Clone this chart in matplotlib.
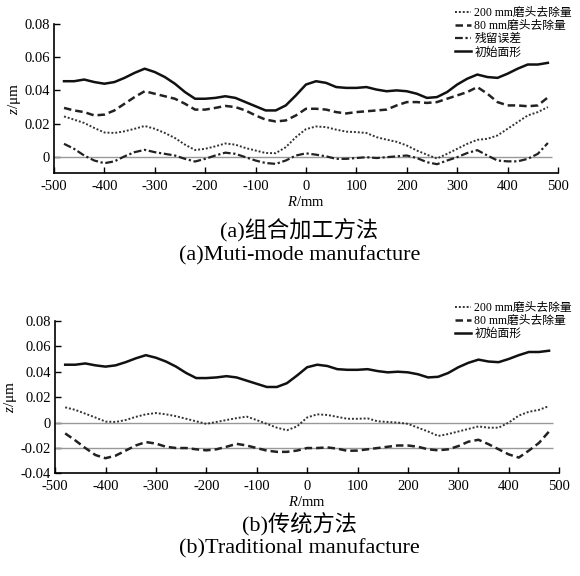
import matplotlib
matplotlib.use("Agg")
import matplotlib.pyplot as plt
from matplotlib.ticker import FuncFormatter

plt.rcParams['font.family'] = ['Liberation Serif', 'Noto Sans CJK SC']
plt.rcParams['mathtext.fontset'] = 'custom'
plt.rcParams['mathtext.it'] = 'Liberation Serif:italic'
plt.rcParams['mathtext.rm'] = 'Liberation Serif'
plt.rcParams['axes.unicode_minus'] = False

# radius samples (mm)
R = [-480, -460, -440, -420, -400, -380, -360, -340, -320, -300,
     -280, -260, -240, -220, -200, -180, -160, -140, -120, -100,
     -80, -60, -40, -20, 0, 20, 40, 60, 80, 100,
     120, 140, 160, 180, 200, 220, 240, 260, 280, 300,
     320, 340, 360, 380, 400, 420, 440, 460, 480]

# initial surface (same in both panels)
initial = [0.0455, 0.0455, 0.0465, 0.045, 0.044, 0.045, 0.0475, 0.0505, 0.053, 0.051,
           0.048, 0.044, 0.039, 0.035, 0.035, 0.0355, 0.0365, 0.0355, 0.033, 0.0305,
           0.028, 0.028, 0.031, 0.037, 0.0435, 0.0455, 0.0445, 0.042, 0.0415, 0.0415,
           0.042, 0.0405, 0.0395, 0.040, 0.0395, 0.038, 0.0355, 0.036, 0.039, 0.0435,
           0.047, 0.0495, 0.048, 0.0475, 0.050, 0.053, 0.0555, 0.0555, 0.0565]

# (a) multi-mode
a_200 = [0.0244, 0.0225, 0.0205, 0.0175, 0.0148, 0.0145, 0.0155, 0.017, 0.0187, 0.017,
         0.0145, 0.0115, 0.0075, 0.0043, 0.005, 0.0065, 0.0082, 0.0075, 0.0055, 0.004,
         0.0025, 0.0024, 0.006, 0.012, 0.0168, 0.0184, 0.018, 0.0165, 0.0153, 0.015,
         0.0145, 0.012, 0.0105, 0.0092, 0.007, 0.004, 0.0015, -0.0008, 0.002, 0.005,
         0.008, 0.0104, 0.011, 0.013, 0.017, 0.021, 0.025, 0.027, 0.030]
a_80 = [0.0295, 0.028, 0.027, 0.025, 0.0255, 0.028, 0.032, 0.036, 0.0395, 0.038,
        0.0365, 0.035, 0.032, 0.0285, 0.0285, 0.0295, 0.0307, 0.030, 0.028, 0.025,
        0.0225, 0.0214, 0.022, 0.025, 0.029, 0.029, 0.0285, 0.027, 0.0262, 0.027,
        0.0275, 0.028, 0.0285, 0.031, 0.033, 0.033, 0.0325, 0.033, 0.035, 0.037,
        0.039, 0.042, 0.038, 0.033, 0.031, 0.031, 0.0305, 0.031, 0.0358]
a_res = [0.008, 0.005, 0.001, -0.002, -0.0036, -0.0025, 0.0005, 0.003, 0.0044, 0.003,
         0.002, 0.001, -0.001, -0.0026, -0.001, 0.001, 0.0027, 0.002, 0.0, -0.002,
         -0.0035, -0.004, -0.002, 0.001, 0.0023, 0.0015, 0.0005, -0.001, -0.001, -0.0005,
         0.0, -0.0005, 0.0, 0.0005, 0.001, -0.0005, -0.003, -0.0042, -0.002, 0.0,
         0.0025, 0.0042, 0.001, -0.002, -0.0025, -0.0025, -0.001, 0.002, 0.0085]

# (b) traditional
b_200 = [0.012, 0.010, 0.007, 0.004, 0.0008, 0.0005, 0.002, 0.0045, 0.0065, 0.0075,
         0.0065, 0.005, 0.003, 0.001, -0.001, 0.0005, 0.002, 0.0035, 0.0047, 0.002,
         -0.001, -0.004, -0.006, -0.003, 0.004, 0.0065, 0.006, 0.0045, 0.003, 0.003,
         0.0033, 0.001, 0.0005, 0.0, -0.001, -0.004, -0.007, -0.0105, -0.009, -0.007,
         -0.005, -0.003, -0.004, -0.004, 0.0, 0.0055, 0.0085, 0.010, 0.013]
b_80 = [-0.0085, -0.014, -0.020, -0.0255, -0.028, -0.026, -0.022, -0.018, -0.0153, -0.0165,
        -0.019, -0.020, -0.020, -0.021, -0.0218, -0.021, -0.019, -0.0167, -0.018, -0.020,
        -0.022, -0.023, -0.023, -0.022, -0.020, -0.020, -0.0195, -0.0205, -0.0222, -0.022,
        -0.021, -0.020, -0.019, -0.018, -0.018, -0.019, -0.021, -0.0218, -0.021, -0.0185,
        -0.015, -0.0135, -0.017, -0.021, -0.025, -0.0275, -0.022, -0.016, -0.007]

LBL_200 = '200 mm磨头去除量'
LBL_80 = '80 mm磨头去除量'
LBL_RES = '残留误差'
LBL_INIT = '初始面形'

STYLE_200 = dict(color='#333333', lw=1.4, linestyle=(0, (1, 1)))
STYLE_80 = dict(color='#222222', lw=1.8, linestyle=(0, (3, 1.6)))
STYLE_RES = dict(color='#222222', lw=1.6, linestyle=(0, (3.5, 1.2, 1, 1.2)))
STYLE_INIT = dict(color='#111111', lw=1.8, linestyle='-')


def yfmt(v, pos):
    return '0' if abs(v) < 1e-9 else f'{v:.2f}'


def style_axes(ax, ylim, yticks):
    ax.set_xlim(-500, 500)
    ax.set_ylim(*ylim)
    ax.set_xticks(range(-500, 501, 100))
    ax.set_yticks(yticks)
    ax.yaxis.set_major_formatter(FuncFormatter(yfmt))
    for s in ('top', 'right'):
        ax.spines[s].set_visible(False)
    for s in ('left', 'bottom'):
        ax.spines[s].set_linewidth(1.2)
    ax.tick_params(direction='in', length=4, width=1, labelsize=10.5)
    ax.tick_params(axis='x', pad=5)
    ax.tick_params(axis='y', pad=3)
    ax.set_xlabel('$\\it{R}$/mm', fontsize=10.5, labelpad=1)
    ax.set_ylabel('$\\it{z}$/μm', fontsize=11, labelpad=1)


fig = plt.figure(figsize=(5.8, 5.76), dpi=100)

ax1 = fig.add_axes([0.093, 0.699, 0.869, 0.26])
ax1.hlines(0, -500, 488, color='#999999', lw=1.0)
ax1.plot(R, a_200, label=LBL_200, **STYLE_200)
ax1.plot(R, a_80, label=LBL_80, **STYLE_80)
ax1.plot(R, a_res, label=LBL_RES, **STYLE_RES)
ax1.plot(R, initial, label=LBL_INIT, **STYLE_INIT)
style_axes(ax1, (-0.0097, 0.08), [0, 0.02, 0.04, 0.06, 0.08])
ax1.legend(loc='upper left', bbox_to_anchor=(0.785, 0.988), bbox_transform=fig.transFigure,
           frameon=False, fontsize=8.5, handlelength=1.3, handletextpad=0.3,
           labelspacing=0.1, borderpad=0, borderaxespad=0)

ax2 = fig.add_axes([0.095, 0.178, 0.869, 0.265])
ax2.hlines([0, -0.02], -500, 488, color='#999999', lw=1.0)
ax2.plot(R, b_200, label=LBL_200, **STYLE_200)
ax2.plot(R, b_80, label=LBL_80, **STYLE_80)
ax2.plot(R, initial, label=LBL_INIT, **STYLE_INIT)
style_axes(ax2, (-0.04, 0.08), [-0.04, -0.02, 0, 0.02, 0.04, 0.06, 0.08])
ax2.legend(loc='upper left', bbox_to_anchor=(0.785, 0.476), bbox_transform=fig.transFigure,
           frameon=False, fontsize=8.5, handlelength=1.3, handletextpad=0.3,
           labelspacing=0.1, borderpad=0, borderaxespad=0)

fig.text(0.515, 1 - 231 / 576, '(a)组合加工方法', ha='center', va='center', fontsize=16)
fig.text(0.517, 1 - 256 / 576, '(a)Muti-mode manufacture', ha='center', va='center', fontsize=16)
fig.text(0.517, 1 - 525 / 576, '(b)传统方法', ha='center', va='center', fontsize=16)
fig.text(0.517, 1 - 549 / 576, '(b)Traditional manufacture', ha='center', va='center', fontsize=16)

fig.savefig('out.png', dpi=100, facecolor='white')
